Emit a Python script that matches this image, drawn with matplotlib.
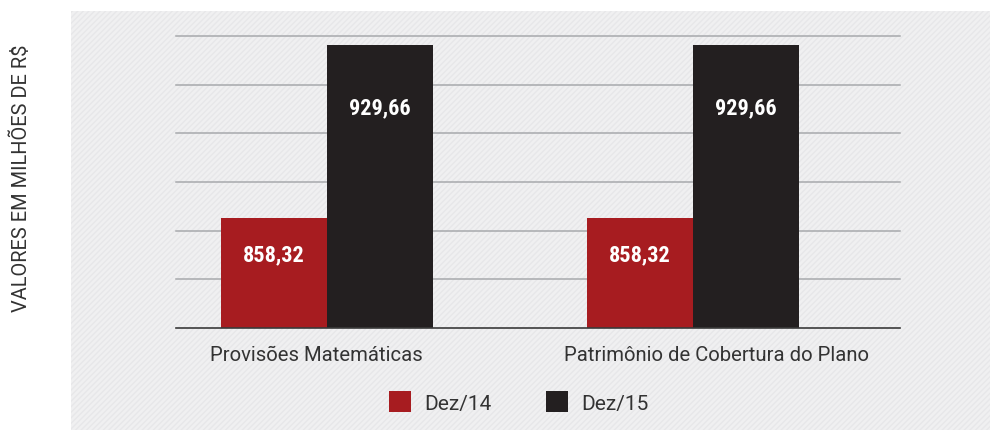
import matplotlib.pyplot as plt
from matplotlib.patches import Rectangle

categories = ["Provisões Matemáticas", "Patrimônio de Cobertura do Plano"]
series_names = ["Dez/14", "Dez/15"]
dez14 = [858.32, 858.32]
dez15 = [929.66, 929.66]
value_labels_14 = ["858,32", "858,32"]
value_labels_15 = ["929,66", "929,66"]

RED = "#a71c20"
BLACK = "#231f20"
TEXT = "#333333"
BASE = 813.3
GRID_STEP = 20

fig = plt.figure(figsize=(9.95, 4.31), dpi=100, facecolor="white")

# light textured panel behind the chart
panel = Rectangle((0.0714, 0.0), 0.9236, 0.9722, transform=fig.transFigure,
                  facecolor="#f0f0f1", edgecolor="#e7e7e9", hatch="//////",
                  linewidth=0, zorder=-1)
fig.patches.append(panel)

ax = fig.add_axes([0.1769, 0.2374, 0.7276, 0.676])
ax.set_facecolor("none")

x = list(range(len(categories)))
width = 0.2896
bars14 = ax.bar([i - width / 2 for i in x], [v - BASE for v in dez14], width,
                bottom=BASE, color=RED, label=series_names[0], zorder=3)
bars15 = ax.bar([i + width / 2 for i in x], [v - BASE for v in dez15], width,
                bottom=BASE, color=BLACK, label=series_names[1], zorder=3)

ax.set_xlim(-0.4126, 1.5656)
ax.set_ylim(BASE, BASE + 6 * GRID_STEP)
for k in range(1, 7):
    ax.axhline(BASE + k * GRID_STEP, color="#a7a9ac", linewidth=1.1, zorder=1,
               clip_on=False)
ax.axhline(BASE, color="#3a3a3a", linewidth=1.2, zorder=4, clip_on=False)

for s in ax.spines.values():
    s.set_visible(False)
ax.set_xticks([])
ax.set_yticks([])

value_font = dict(family=["Roboto Condensed", "Roboto"],
                  fontsize=16, fontweight="bold", color="white")
for bar, lab in zip(bars14, value_labels_14):
    ax.annotate(lab, (bar.get_x() + bar.get_width() / 2, bar.get_y() + bar.get_height()),
                xytext=(0, -36), textcoords="offset pixels",
                ha="center", va="center", zorder=5, **value_font)
for bar, lab in zip(bars15, value_labels_15):
    ax.annotate(lab, (bar.get_x() + bar.get_width() / 2, bar.get_y() + bar.get_height()),
                xytext=(0, -62), textcoords="offset pixels",
                ha="center", va="center", zorder=5, **value_font)

# category names under each group
label_shift = [-0.03, 0.063]
for i, (cat, dx) in enumerate(zip(categories, label_shift)):
    ax.annotate(cat, (i + dx, BASE), xytext=(0, -27), textcoords="offset pixels",
                ha="center", va="center", fontsize=14.6, family="Roboto",
                color=TEXT, annotation_clip=False)

fig.text(0.0206, 0.587, "VALORES EM MILHÕES DE R$", rotation=90,
         ha="center", va="center", fontsize=14.4, family="Roboto", color=TEXT)

leg = fig.legend(handles=[bars14, bars15], labels=series_names, ncol=2,
                 loc="center", bbox_to_anchor=(0.5214, 0.065),
                 frameon=False, prop=dict(family="Roboto", size=15),
                 handlelength=1.06, handleheight=1.2, handletextpad=0.63,
                 columnspacing=2.64, borderpad=0)
for t in leg.get_texts():
    t.set_color(TEXT)

fig.savefig("out.png", dpi=100, facecolor="white")
